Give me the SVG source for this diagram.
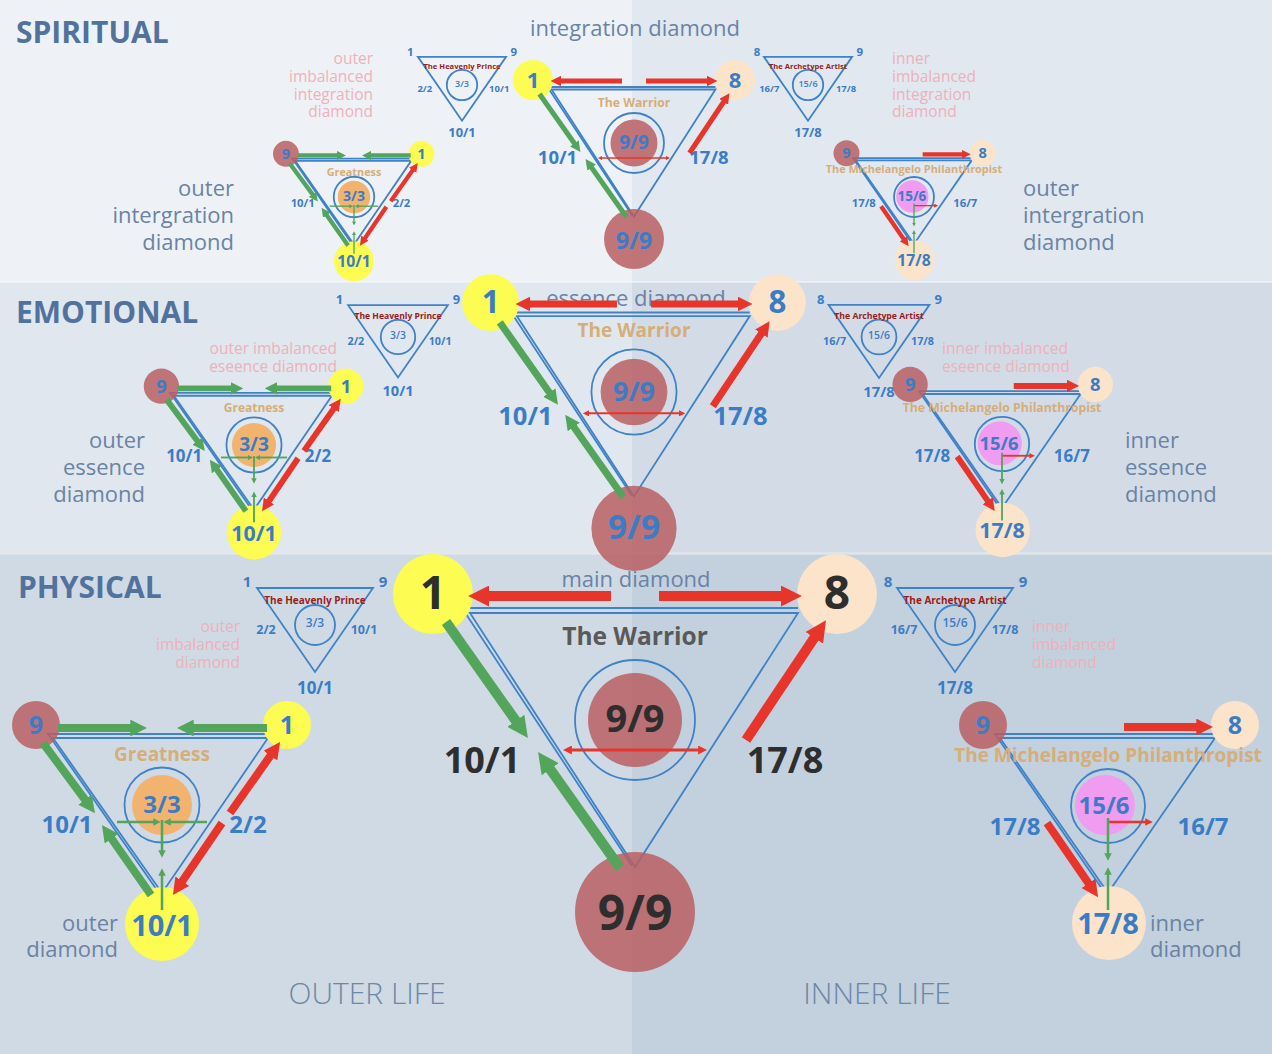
<svg xmlns="http://www.w3.org/2000/svg" width="1272" height="1054" viewBox="0 0 1272 1054">
<defs>
<style>
text{font-family:"Open Sans","Liberation Sans",sans-serif}
.c{text-anchor:middle}
.e{text-anchor:end}
.b{font-weight:700}
.blue{fill:#3b7cc6}
.dark{fill:#2e2e2e}
.tan{fill:#d5ae78}
.dred{fill:#9b1c1c}
.gray{fill:#6a83a5}
.pink{fill:#eeb1ba}
.sec{fill:#52729e;font-weight:700;font-size:30px}
.life{fill:#6d87a8;font-weight:300;font-size:30px;text-anchor:middle}
.tri{fill:none;stroke:#3f82c8;stroke-width:1.8;vector-effect:non-scaling-stroke}
.ring{fill:none;stroke:#3f82c8;stroke-width:1.8;vector-effect:non-scaling-stroke}
.yel{fill:#fdfc52}
.pea{fill:#fbe4ca}
.red{fill:#b95f63;fill-opacity:0.85}
.org{fill:#f2b36e}
.pnk{fill:#f09cf0}
.ga{stroke:#53a55c;fill:none;marker-end:url(#mg)}
.ra{stroke:#e8352b;fill:none;marker-end:url(#mr)}
.gs{stroke:#53a55c;stroke-width:2.5;fill:none;marker-end:url(#mgs)}
.rs{stroke:#e8352b;stroke-width:2.5;fill:none;marker-end:url(#mrs)}
.rd{stroke:#e8352b;stroke-width:3;fill:none;marker-start:url(#mrs);marker-end:url(#mrs)}
</style>
<marker id="mg" viewBox="0 0 10 10" refX="1" refY="5" markerWidth="2.1" markerHeight="2.1" orient="auto" markerUnits="strokeWidth"><path d="M0,0L10,5L0,10Z" fill="#53a55c"/></marker>
<marker id="mr" viewBox="0 0 10 10" refX="1" refY="5" markerWidth="2.1" markerHeight="2.1" orient="auto" markerUnits="strokeWidth"><path d="M0,0L10,5L0,10Z" fill="#e8352b"/></marker>
<marker id="mgs" viewBox="0 0 10 10" refX="1" refY="5" markerWidth="3" markerHeight="3" orient="auto" markerUnits="strokeWidth"><path d="M0,0L10,5L0,10Z" fill="#53a55c"/></marker>
<marker id="mrs" viewBox="0 0 10 10" refX="1" refY="5" markerWidth="3" markerHeight="3" orient="auto-start-reverse" markerUnits="strokeWidth"><path d="M0,0L10,5L0,10Z" fill="#e8352b"/></marker>
</defs>

<g id="background">
<rect width="632" height="282" fill="#eef2f6"/>
<rect x="632" width="640" height="282" fill="#e1e8ef"/>
<rect y="282" width="632" height="272" fill="#e0e7ee"/>
<rect x="632" y="282" width="640" height="272" fill="#d3dce6"/>
<rect y="554" width="632" height="500" fill="#d0dae4"/>
<rect x="632" y="554" width="640" height="500" fill="#c3d0dd"/>
<rect y="281" width="1272" height="2" fill="#f3f6f9" opacity="0.6"/>
<rect y="552" width="1272" height="3" fill="#e4e9ef" opacity="0.6"/>
</g>

<g id="labels">
<text class="sec" x="16" y="43">SPIRITUAL</text>
<text class="sec" x="16" y="323">EMOTIONAL</text>
<text class="sec" x="18" y="598">PHYSICAL</text>
<text class="gray c" x="635" y="36" font-size="22">integration diamond</text>
<text class="gray c" x="636" y="306" font-size="22">essence diamond</text>
<text class="gray c" x="636" y="587" font-size="22">main diamond</text>
<text class="gray e" font-size="22"><tspan x="234" y="196">outer</tspan><tspan x="234" y="223">intergration</tspan><tspan x="234" y="250">diamond</tspan></text>
<text class="gray" font-size="22"><tspan x="1023" y="196">outer</tspan><tspan x="1023" y="223">intergration</tspan><tspan x="1023" y="250">diamond</tspan></text>
<text class="gray e" font-size="22"><tspan x="145" y="448">outer</tspan><tspan x="145" y="475">essence</tspan><tspan x="145" y="502">diamond</tspan></text>
<text class="gray" font-size="22"><tspan x="1125" y="448">inner</tspan><tspan x="1125" y="475">essence</tspan><tspan x="1125" y="502">diamond</tspan></text>
<text class="gray e" font-size="22"><tspan x="118" y="931">outer</tspan><tspan x="118" y="957">diamond</tspan></text>
<text class="gray" font-size="22"><tspan x="1150" y="931">inner</tspan><tspan x="1150" y="957">diamond</tspan></text>
<text class="pink e" font-size="15.5"><tspan x="373" y="64">outer</tspan><tspan x="373" y="82">imbalanced</tspan><tspan x="373" y="100">integration</tspan><tspan x="373" y="117">diamond</tspan></text>
<text class="pink" font-size="15.5"><tspan x="892" y="64">inner</tspan><tspan x="892" y="82">imbalanced</tspan><tspan x="892" y="100">integration</tspan><tspan x="892" y="117">diamond</tspan></text>
<text class="pink e" font-size="15.5"><tspan x="337" y="354">outer imbalanced</tspan><tspan x="337" y="372">eseence diamond</tspan></text>
<text class="pink" font-size="15.5"><tspan x="942" y="354">inner imbalanced</tspan><tspan x="942" y="372">eseence diamond</tspan></text>
<text class="pink e" font-size="15.5"><tspan x="240" y="632">outer</tspan><tspan x="240" y="650">imbalanced</tspan><tspan x="240" y="668">diamond</tspan></text>
<text class="pink" font-size="15.5"><tspan x="1032" y="632">inner</tspan><tspan x="1032" y="650">imbalanced</tspan><tspan x="1032" y="668">diamond</tspan></text>
<text class="life" x="367" y="1004">OUTER LIFE</text>
<text class="life" x="877" y="1004">INNER LIFE</text>
</g>

<!-- small imbalanced triangles -->
<g id="prince-spiritual" transform="translate(462,85) scale(0.76)">
<path class="tri" d="M-58,-37L58,-37L0,47Z"/><circle class="ring" r="20"/>
<text class="c b dred" y="-21" font-size="10">The Heavenly Prince</text>
<text class="c blue" y="2" font-size="12" font-weight="600">3/3</text>
<text class="c b blue" x="-68" y="-38" font-size="15">1</text><text class="c b blue" x="68" y="-38" font-size="15">9</text>
<text class="c b blue" x="-49" y="9" font-size="12.5">2/2</text><text class="c b blue" x="49" y="9" font-size="12.5">10/1</text>
<text class="c b blue" y="69" font-size="17">10/1</text>
</g>
<g id="prince-emotional" transform="translate(398,337) scale(0.86)">
<path class="tri" d="M-58,-37L58,-37L0,47Z"/><circle class="ring" r="20"/>
<text class="c b dred" y="-21" font-size="10">The Heavenly Prince</text>
<text class="c blue" y="2" font-size="12" font-weight="600">3/3</text>
<text class="c b blue" x="-68" y="-38" font-size="15">1</text><text class="c b blue" x="68" y="-38" font-size="15">9</text>
<text class="c b blue" x="-49" y="9" font-size="12.5">2/2</text><text class="c b blue" x="49" y="9" font-size="12.5">10/1</text>
<text class="c b blue" y="69" font-size="17">10/1</text>
</g>
<g id="prince-physical" transform="translate(315,625)">
<path class="tri" d="M-58,-37L58,-37L0,47Z"/><circle class="ring" r="20"/>
<text class="c b dred" y="-21" font-size="10">The Heavenly Prince</text>
<text class="c blue" y="2" font-size="12" font-weight="600">3/3</text>
<text class="c b blue" x="-68" y="-38" font-size="15">1</text><text class="c b blue" x="68" y="-38" font-size="15">9</text>
<text class="c b blue" x="-49" y="9" font-size="12.5">2/2</text><text class="c b blue" x="49" y="9" font-size="12.5">10/1</text>
<text class="c b blue" y="69" font-size="17">10/1</text>
</g>
<g id="artist-spiritual" transform="translate(808,85) scale(0.76)">
<path class="tri" d="M-58,-37L58,-37L0,47Z"/><circle class="ring" r="20"/>
<text class="c b dred" y="-21" font-size="10">The Archetype Artist</text>
<text class="c blue" y="2" font-size="12" font-weight="600">15/6</text>
<text class="c b blue" x="-67" y="-38" font-size="15">8</text><text class="c b blue" x="68" y="-38" font-size="15">9</text>
<text class="c b blue" x="-51" y="9" font-size="12.5">16/7</text><text class="c b blue" x="50" y="9" font-size="12.5">17/8</text>
<text class="c b blue" y="69" font-size="17">17/8</text>
</g>
<g id="artist-emotional" transform="translate(879,337) scale(0.87)">
<path class="tri" d="M-58,-37L58,-37L0,47Z"/><circle class="ring" r="20"/>
<text class="c b dred" y="-21" font-size="10">The Archetype Artist</text>
<text class="c blue" y="2" font-size="12" font-weight="600">15/6</text>
<text class="c b blue" x="-67" y="-38" font-size="15">8</text><text class="c b blue" x="68" y="-38" font-size="15">9</text>
<text class="c b blue" x="-51" y="9" font-size="12.5">16/7</text><text class="c b blue" x="50" y="9" font-size="12.5">17/8</text>
<text class="c b blue" y="69" font-size="17">17/8</text>
</g>
<g id="artist-physical" transform="translate(955,625)">
<path class="tri" d="M-58,-37L58,-37L0,47Z"/><circle class="ring" r="20"/>
<text class="c b dred" y="-21" font-size="10">The Archetype Artist</text>
<text class="c blue" y="2" font-size="12" font-weight="600">15/6</text>
<text class="c b blue" x="-67" y="-38" font-size="15">8</text><text class="c b blue" x="68" y="-38" font-size="15">9</text>
<text class="c b blue" x="-51" y="9" font-size="12.5">16/7</text><text class="c b blue" x="50" y="9" font-size="12.5">17/8</text>
<text class="c b blue" y="69" font-size="17">17/8</text>
</g>

<!-- main diamonds -->
<g id="main-spiritual" transform="translate(634,143) scale(0.5)">
<path class="tri" d="M-165,-107L163,-107L0,147Z"/><path class="tri" d="M163,-112L-173,-112L-3,146"/>
<circle class="ring" r="60"/><circle class="red" r="47"/>
<circle class="yel" cx="-202" cy="-126" r="40"/><circle class="pea" cx="202" cy="-126" r="40"/>
<circle class="red" cy="192" r="60"/>
<text class="c b tan" y="-72" font-size="24.4">The Warrior</text>
<text class="c b blue" y="12" font-size="38">9/9</text>
<text class="c b blue" x="-153" y="42" font-size="37">10/1</text>
<text class="c b blue" x="150" y="42" font-size="37">17/8</text>
<text class="c b blue" x="-202" y="-111" font-size="44">1</text>
<text class="c b blue" x="202" y="-111" font-size="44">8</text>
<text class="c b blue" y="212" font-size="47">9/9</text>
</g>
<g id="main-emotional" transform="translate(634,392) scale(0.71)">
<path class="tri" d="M-165,-107L163,-107L0,147Z"/><path class="tri" d="M163,-112L-173,-112L-3,146"/>
<circle class="ring" r="60"/><circle class="red" r="47"/>
<circle class="yel" cx="-202" cy="-126" r="40"/><circle class="pea" cx="202" cy="-126" r="40"/>
<circle class="red" cy="192" r="60"/>
<text class="c b tan" y="-77" font-size="26.8">The Warrior</text>
<text class="c b blue" y="12" font-size="38">9/9</text>
<text class="c b blue" x="-153" y="47" font-size="36">10/1</text>
<text class="c b blue" x="150" y="47" font-size="36">17/8</text>
<text class="c b blue" x="-202" y="-111" font-size="44">1</text>
<text class="c b blue" x="202" y="-111" font-size="44">8</text>
<text class="c b blue" y="207" font-size="47">9/9</text>
</g>
<g id="main-physical" transform="translate(635,720)">
<path class="tri" d="M-165,-107L163,-107L0,147Z"/><path class="tri" d="M163,-112L-173,-112L-3,146"/>
<circle class="ring" r="60"/><circle class="red" r="47"/>
<circle class="yel" cx="-202" cy="-126" r="40"/><circle class="pea" cx="202" cy="-126" r="40"/>
<circle class="red" cy="192" r="60"/>
<text class="c b" y="-75" font-size="24.5" fill="#595959">The Warrior</text>
<text class="c b dark" y="12" font-size="38">9/9</text>
<text class="c b dark" x="-153" y="53" font-size="36">10/1</text>
<text class="c b dark" x="150" y="53" font-size="36">17/8</text>
<text class="c b dark" x="-202" y="-111" font-size="46">1</text>
<text class="c b dark" x="202" y="-111" font-size="46">8</text>
<text class="c b dark" y="210" font-size="48">9/9</text>
</g>

<!-- outer (Greatness) diamonds -->
<g id="outer-spiritual" transform="translate(354,197) scale(0.54)">
<path class="tri" d="M-109,-67L106,-67L0,88Z"/><path class="tri" d="M106,-71L-114,-71L-3,88"/>
<circle class="ring" r="37.5"/><circle class="org" r="30"/>
<circle class="red" cx="-126" cy="-80" r="24"/><circle class="yel" cx="125" cy="-80" r="24"/>
<circle class="yel" cy="119" r="37"/>
<text class="c b tan" y="-39" font-size="20">Greatness</text>
<text class="c b blue" y="8" font-size="26">3/3</text>
<text class="c b blue" x="-95" y="19" font-size="21">10/1</text>
<text class="c b blue" x="88" y="19" font-size="21">2/2</text>
<text class="c b blue" x="-126" y="-71" font-size="27">9</text>
<text class="c b blue" x="125" y="-71" font-size="27">1</text>
<text class="c b blue" y="130" font-size="29">10/1</text>
</g>
<g id="outer-emotional" transform="translate(254,445) scale(0.735)">
<path class="tri" d="M-109,-67L106,-67L0,88Z"/><path class="tri" d="M106,-71L-114,-71L-3,88"/>
<circle class="ring" r="37.5"/><circle class="org" r="30"/>
<circle class="red" cx="-126" cy="-80" r="24"/><circle class="yel" cx="125" cy="-80" r="24"/>
<circle class="yel" cy="119" r="37"/>
<text class="c b tan" y="-45" font-size="16.3">Greatness</text>
<text class="c b blue" y="8" font-size="26">3/3</text>
<text class="c b blue" x="-95" y="23" font-size="23">10/1</text>
<text class="c b blue" x="87" y="23" font-size="23">2/2</text>
<text class="c b blue" x="-126" y="-71" font-size="25">9</text>
<text class="c b blue" x="125" y="-71" font-size="25">1</text>
<text class="c b blue" y="130" font-size="29">10/1</text>
</g>
<g id="outer-physical" transform="translate(162,805)">
<path class="tri" d="M-109,-67L106,-67L0,88Z"/><path class="tri" d="M106,-71L-114,-71L-3,88"/>
<circle class="ring" r="37.5"/><circle class="org" r="30"/>
<circle class="red" cx="-126" cy="-80" r="24"/><circle class="yel" cx="125" cy="-80" r="24"/>
<circle class="yel" cy="119" r="37"/>
<text class="c b tan" y="-44" font-size="19">Greatness</text>
<text class="c b blue" y="8" font-size="24">3/3</text>
<text class="c b blue" x="-95" y="28" font-size="24">10/1</text>
<text class="c b blue" x="86" y="28" font-size="24">2/2</text>
<text class="c b blue" x="-126" y="-71" font-size="25">9</text>
<text class="c b blue" x="125" y="-71" font-size="25">1</text>
<text class="c b blue" y="131" font-size="29">10/1</text>
</g>

<!-- inner (Michelangelo) diamonds -->
<g id="inner-spiritual" transform="translate(914,197) scale(0.54)">
<path class="tri" d="M-108,-68L107,-68L0,87Z"/><path class="tri" d="M107,-72L-113,-72L-3,87"/>
<circle class="ring" r="37"/><circle class="pnk" cx="-3" cy="-1" r="30"/>
<circle class="red" cx="-125" cy="-81" r="24"/><circle class="pea" cx="127" cy="-81" r="24"/>
<circle class="pea" cx="1" cy="117" r="37"/>
<text class="c b tan" y="-44" font-size="20.2">The Michelangelo Philanthropist</text>
<text class="c b blue" x="-4" y="8" font-size="25">15/6</text>
<text class="c b blue" x="-93" y="19" font-size="21">17/8</text>
<text class="c b blue" x="95" y="19" font-size="21">16/7</text>
<text class="c b blue" x="-125" y="-72" font-size="27">9</text>
<text class="c b blue" x="127" y="-72" font-size="27">8</text>
<text class="c b blue" y="128" font-size="29">17/8</text>
</g>
<g id="inner-emotional" transform="translate(1002,444) scale(0.735)">
<path class="tri" d="M-108,-68L107,-68L0,87Z"/><path class="tri" d="M107,-72L-113,-72L-3,87"/>
<circle class="ring" r="37"/><circle class="pnk" cx="-3" cy="-1" r="30"/>
<circle class="red" cx="-125" cy="-81" r="24"/><circle class="pea" cx="127" cy="-81" r="24"/>
<circle class="pea" cx="1" cy="117" r="37"/>
<text class="c b tan" y="-44" font-size="16.7">The Michelangelo Philanthropist</text>
<text class="c b blue" x="-4" y="8" font-size="25">15/6</text>
<text class="c b blue" x="-95" y="24" font-size="23">17/8</text>
<text class="c b blue" x="95" y="24" font-size="23">16/7</text>
<text class="c b blue" x="-125" y="-72" font-size="25">9</text>
<text class="c b blue" x="127" y="-72" font-size="25">8</text>
<text class="c b blue" y="128" font-size="29">17/8</text>
</g>
<g id="inner-physical" transform="translate(1108,806)">
<path class="tri" d="M-108,-68L107,-68L0,87Z"/><path class="tri" d="M107,-72L-113,-72L-3,87"/>
<circle class="ring" r="37"/><circle class="pnk" cx="-3" cy="-1" r="30"/>
<circle class="red" cx="-125" cy="-81" r="24"/><circle class="pea" cx="127" cy="-81" r="24"/>
<circle class="pea" cx="1" cy="117" r="37"/>
<text class="c b tan" y="-44" font-size="19">The Michelangelo Philanthropist</text>
<text class="c b blue" x="-4" y="8" font-size="24">15/6</text>
<text class="c b blue" x="-93" y="29" font-size="24">17/8</text>
<text class="c b blue" x="95" y="29" font-size="24">16/7</text>
<text class="c b blue" x="-125" y="-72" font-size="25">9</text>
<text class="c b blue" x="127" y="-72" font-size="25">8</text>
<text class="c b blue" y="128" font-size="29">17/8</text>
</g>

<g id="connectors">
<g id="main-spiritual-arrows" transform="translate(634,143) scale(0.5)">
<line class="rd" x1="-64" y1="30" x2="64" y2="30"/>
<line class="ga" stroke-width="10" x1="-189" y1="-98" x2="-118" y2="2.5"/>
<line class="ga" stroke-width="10" x1="-15" y1="148" x2="-86" y2="47.5"/>
<line class="ra" stroke-width="10" x1="111" y1="20" x2="180.5" y2="-84"/>
<line class="ra" stroke-width="10" x1="-24" y1="-124" x2="-148" y2="-124"/>
<line class="ra" stroke-width="10" x1="24" y1="-124" x2="148" y2="-124"/>
</g>
<g id="main-emotional-arrows" transform="translate(634,392) scale(0.71)">
<line class="rd" x1="-64" y1="30" x2="64" y2="30"/>
<line class="ga" stroke-width="10" x1="-189" y1="-98" x2="-118" y2="2.5"/>
<line class="ga" stroke-width="10" x1="-15" y1="148" x2="-86" y2="47.5"/>
<line class="ra" stroke-width="10" x1="111" y1="20" x2="180.5" y2="-84"/>
<line class="ra" stroke-width="10" x1="-24" y1="-124" x2="-148" y2="-124"/>
<line class="ra" stroke-width="10" x1="24" y1="-124" x2="148" y2="-124"/>
</g>
<g id="main-physical-arrows" transform="translate(635,720)">
<line class="rd" x1="-64" y1="30" x2="64" y2="30"/>
<line class="ga" stroke-width="10" x1="-189" y1="-98" x2="-118" y2="2.5"/>
<line class="ga" stroke-width="10" x1="-15" y1="148" x2="-86" y2="47.5"/>
<line class="ra" stroke-width="10" x1="111" y1="20" x2="180.5" y2="-84"/>
<line class="ra" stroke-width="10" x1="-24" y1="-124" x2="-148" y2="-124"/>
<line class="ra" stroke-width="10" x1="24" y1="-124" x2="148" y2="-124"/>
</g>
<g id="outer-spiritual-arrows" transform="translate(354,197) scale(0.54)">
<line class="ga" stroke-width="8" x1="-104" y1="-77" x2="-30" y2="-77"/>
<line class="ga" stroke-width="8" x1="105" y1="-77" x2="30" y2="-77"/>
<line class="ga" stroke-width="8" x1="-119" y1="-62" x2="-76" y2="-4"/>
<line class="ga" stroke-width="8" x1="-11" y1="90" x2="-51.4" y2="32.3"/>
<line class="ra" stroke-width="8" x1="68" y1="8" x2="109.4" y2="-50.7"/>
<line class="ra" stroke-width="8" x1="60" y1="18" x2="19.4" y2="77.6"/>
<line class="gs" x1="-45" y1="17" x2="-8" y2="17"/><line class="gs" x1="45" y1="17" x2="8" y2="17"/>
<line class="gs" x1="0" y1="15" x2="0" y2="46"/><line class="gs" x1="0" y1="105" x2="0" y2="70"/>
</g>
<g id="outer-emotional-arrows" transform="translate(254,445) scale(0.735)">
<line class="ga" stroke-width="8" x1="-104" y1="-77" x2="-30" y2="-77"/>
<line class="ga" stroke-width="8" x1="105" y1="-77" x2="30" y2="-77"/>
<line class="ga" stroke-width="8" x1="-119" y1="-62" x2="-76" y2="-4"/>
<line class="ga" stroke-width="8" x1="-11" y1="90" x2="-51.4" y2="32.3"/>
<line class="ra" stroke-width="8" x1="68" y1="8" x2="109.4" y2="-50.7"/>
<line class="ra" stroke-width="8" x1="60" y1="18" x2="19.4" y2="77.6"/>
<line class="gs" x1="-45" y1="17" x2="-8" y2="17"/><line class="gs" x1="45" y1="17" x2="8" y2="17"/>
<line class="gs" x1="0" y1="15" x2="0" y2="46"/><line class="gs" x1="0" y1="105" x2="0" y2="70"/>
</g>
<g id="outer-physical-arrows" transform="translate(162,805)">
<line class="ga" stroke-width="8" x1="-104" y1="-77" x2="-30" y2="-77"/>
<line class="ga" stroke-width="8" x1="105" y1="-77" x2="30" y2="-77"/>
<line class="ga" stroke-width="8" x1="-119" y1="-62" x2="-76" y2="-4"/>
<line class="ga" stroke-width="8" x1="-11" y1="90" x2="-51.4" y2="32.3"/>
<line class="ra" stroke-width="8" x1="68" y1="8" x2="109.4" y2="-50.7"/>
<line class="ra" stroke-width="8" x1="60" y1="18" x2="19.4" y2="77.6"/>
<line class="gs" x1="-45" y1="17" x2="-8" y2="17"/><line class="gs" x1="45" y1="17" x2="8" y2="17"/>
<line class="gs" x1="0" y1="15" x2="0" y2="46"/><line class="gs" x1="0" y1="105" x2="0" y2="70"/>
</g>
<g id="inner-spiritual-arrows" transform="translate(914,197) scale(0.54)">
<line class="ra" stroke-width="8" x1="16" y1="-79" x2="90" y2="-79"/>
<line class="ra" stroke-width="8" x1="-61" y1="17" x2="-18.5" y2="78.7"/>
<line class="rs" x1="0" y1="16" x2="38" y2="16"/>
<line class="gs" x1="0" y1="12" x2="0" y2="48"/><line class="gs" x1="0" y1="104" x2="0" y2="68"/>
</g>
<g id="inner-emotional-arrows" transform="translate(1002,444) scale(0.735)">
<line class="ra" stroke-width="8" x1="16" y1="-79" x2="90" y2="-79"/>
<line class="ra" stroke-width="8" x1="-61" y1="17" x2="-18.5" y2="78.7"/>
<line class="rs" x1="0" y1="16" x2="38" y2="16"/>
<line class="gs" x1="0" y1="12" x2="0" y2="48"/><line class="gs" x1="0" y1="104" x2="0" y2="68"/>
</g>
<g id="inner-physical-arrows" transform="translate(1108,806)">
<line class="ra" stroke-width="8" x1="16" y1="-79" x2="90" y2="-79"/>
<line class="ra" stroke-width="8" x1="-61" y1="17" x2="-18.5" y2="78.7"/>
<line class="rs" x1="0" y1="16" x2="38" y2="16"/>
<line class="gs" x1="0" y1="12" x2="0" y2="48"/><line class="gs" x1="0" y1="104" x2="0" y2="68"/>
</g>
</g>
</svg>
